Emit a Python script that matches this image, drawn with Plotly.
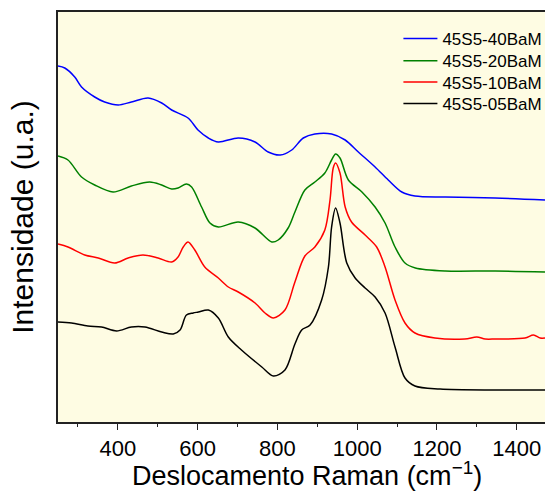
import plotly.graph_objects as go

# Raman shift (cm^-1) and intensity (arbitrary units, offset stacked)
w_40 = [250, 267, 292, 309, 342, 367, 401, 434, 476, 510, 535, 576, 601, 627, 652, 702, 744, 777, 807, 836, 865, 894, 936, 970, 1003, 1045, 1078, 1112, 1145, 1221, 1346, 1471]
i_40 = [356, 354, 345, 335, 325, 320, 317, 320, 324, 319, 312, 304, 292, 284, 280, 284, 280, 270, 267, 272, 284, 288, 288, 282, 270, 255, 242, 230, 226, 225, 224, 222]

w_20 = [250, 275, 309, 342, 388, 434, 480, 510, 535, 551, 572, 585, 610, 631, 652, 702, 744, 786, 802, 827, 844, 869, 894, 919, 936, 946, 957, 978, 1012, 1045, 1070, 1095, 1120, 1146, 1221, 1346, 1471]
i_20 = [266, 262, 245, 237, 230, 236, 240, 237, 233, 234, 238, 235, 215, 199, 195, 200, 194, 180, 182, 194, 210, 232, 240, 249, 262, 268, 264, 242, 230, 215, 199, 175, 159, 154, 151, 151, 150]

w_10 = [250, 275, 317, 351, 392, 426, 463, 501, 535, 551, 564, 576, 593, 618, 652, 677, 702, 744, 769, 790, 819, 844, 869, 894, 919, 932, 940, 946, 957, 970, 986, 1020, 1049, 1070, 1095, 1120, 1145, 1195, 1270, 1300, 1321, 1346, 1421, 1442, 1459, 1471]
i_10 = [178, 175, 167, 164, 159, 164, 167, 164, 160, 165, 175, 180, 172, 155, 144, 135, 130, 119, 109, 104, 112, 140, 166, 175, 192, 222, 254, 259, 249, 215, 200, 187, 175, 155, 122, 99, 89, 84, 83, 85, 83, 83, 84, 87, 84, 84]

w_05 = [250, 284, 325, 359, 397, 434, 468, 510, 539, 556, 572, 589, 602, 627, 652, 677, 710, 761, 790, 819, 844, 861, 882, 911, 928, 936, 946, 957, 974, 995, 1020, 1045, 1070, 1095, 1120, 1145, 1208, 1346, 1471]
i_05 = [100, 99, 96, 95, 91, 95, 95, 90, 88, 92, 107, 109, 110, 112, 104, 85, 72, 55, 46, 52, 78, 92, 97, 122, 155, 195, 214, 199, 159, 144, 134, 125, 109, 75, 44, 36, 33, 32, 32]

series = [
    ("45S5-40BaM", w_40, i_40, "#0000FF"),
    ("45S5-20BaM", w_20, i_20, "#008000"),
    ("45S5-10BaM", w_10, i_10, "#FF0000"),
    ("45S5-05BaM", w_05, i_05, "#000000"),
]

FONT = "Arial, Liberation Sans, sans-serif"
legend_names = ["legend", "legend2", "legend3", "legend4"]
legend_y = [0.934, 0.880, 0.828, 0.776]

fig = go.Figure()
for (name, x, y, c), lg in zip(series, legend_names):
    fig.add_trace(go.Scatter(x=x, y=y, mode="lines", name=name, legend=lg,
                             line=dict(color=c, width=1.5, shape="spline", smoothing=0.9)))

layout_legends = {}
for lg, ly in zip(legend_names, legend_y):
    layout_legends[lg] = dict(x=0.699, y=ly, xanchor="left", yanchor="middle",
                              bgcolor="rgba(0,0,0,0)", font=dict(size=17, family=FONT),
                              itemwidth=34)

fig.update_layout(
    width=545, height=492,
    margin=dict(l=58, r=0, t=12, b=70, autoexpand=False),
    paper_bgcolor="white",
    plot_bgcolor="#FEFCE3",
    font=dict(family=FONT, color="black"),
    showlegend=True,
    **layout_legends,
)
fig.add_annotation(
    text="Deslocamento Raman (cm<sup>−1</sup>)", xref="paper", yref="paper",
    x=0.512, y=-0.1705, xanchor="center", yanchor="bottom", showarrow=False,
    borderpad=0, font=dict(size=27, family=FONT, color="black"),
)
fig.update_xaxes(
    range=[250, 1471], showgrid=False, zeroline=False, automargin=False,
    showline=True, linecolor="#222", linewidth=1.5, mirror=True,
    ticks="outside", ticklen=6, tickwidth=1, tickcolor="#222",
    tickmode="linear", tick0=400, dtick=200,
    minor=dict(ticks="outside", ticklen=3, tickwidth=1, tickcolor="#222", dtick=100, tick0=300, showgrid=False),
    tickfont=dict(size=22, family=FONT),
)
fig.update_yaxes(
    range=[0, 410], showgrid=False, zeroline=False, automargin=False,
    showline=True, linecolor="#222", linewidth=2, mirror=False,
    showticklabels=False, ticks="",
    title=dict(text="Intensidade (u.a.)", font=dict(size=30, family=FONT), standoff=14),
)

fig.write_html("out.html")
